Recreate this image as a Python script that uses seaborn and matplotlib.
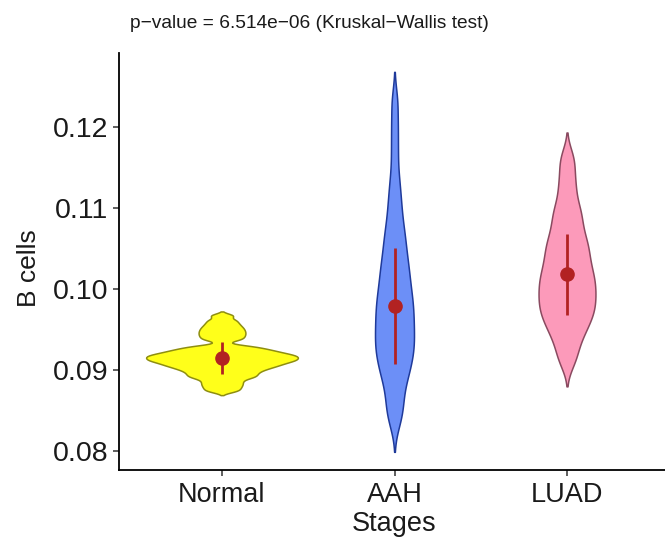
import numpy as np
import pandas as pd
import matplotlib
matplotlib.use("Agg")
import matplotlib.pyplot as plt
import seaborn as sns

stages = ["Normal", "AAH", "LUAD"]

normal_vals = [0.08740, 0.08775, 0.08808, 0.08838, 0.08869, 0.08899, 0.08917, 0.08935,
               0.08953, 0.08971, 0.08988, 0.09004, 0.09018, 0.09031, 0.09044, 0.09055,
               0.09066, 0.09076, 0.09087, 0.09097, 0.09106, 0.09115, 0.09123, 0.09131,
               0.09140, 0.09148, 0.09156, 0.09165, 0.09173, 0.09181, 0.09189, 0.09198,
               0.09208, 0.09219, 0.09230, 0.09241, 0.09254, 0.09268, 0.09285, 0.09302,
               0.09370, 0.09400, 0.09428, 0.09455, 0.09482, 0.09510, 0.09540,
               0.09575, 0.09615, 0.09672]
aah_vals = [0.08350, 0.08480, 0.08580, 0.08706, 0.08837, 0.08907, 0.08975, 0.09044,
            0.09112, 0.09166, 0.09217, 0.09269, 0.09320, 0.09371, 0.09424, 0.09478,
            0.09532, 0.09587, 0.09641, 0.09695, 0.09750, 0.09804, 0.09858, 0.09912,
            0.09971, 0.10040, 0.10108, 0.10177, 0.10245, 0.10314, 0.10390, 0.10483,
            0.10575, 0.10668, 0.10760, 0.10899, 0.11042, 0.11200, 0.11400, 0.11700,
            0.12000, 0.12320]
luad_vals = [0.09080, 0.09200, 0.09310, 0.09411, 0.09473, 0.09535, 0.09596, 0.09646,
             0.09690, 0.09733, 0.09776, 0.09820, 0.09863, 0.09906, 0.09950, 0.09993,
             0.10036, 0.10080, 0.10123, 0.10166, 0.10210, 0.10259, 0.10314, 0.10369,
             0.10424, 0.10480, 0.10535, 0.10590, 0.10647, 0.10728, 0.10809, 0.10890,
             0.10971, 0.11053, 0.11203, 0.11330, 0.11500, 0.11650]

means = [0.0915, 0.0979, 0.1018]
sds = [0.0020, 0.0072, 0.0050]

yticks = [0.08, 0.09, 0.10, 0.11, 0.12]
ytick_labels = ["0.08", "0.09", "0.10", "0.11", "0.12"]

fills = ["#FFFF1A", "#6C8FF7", "#FC9ABA"]
edges = ["#8E8E10", "#1F3A9A", "#8A4A60"]
bw_adj = [0.25, 0.40, 0.45]
widths = [0.88, 0.226, 0.33]

df = pd.DataFrame({
    "Stages": ["Normal"] * len(normal_vals) + ["AAH"] * len(aah_vals) + ["LUAD"] * len(luad_vals),
    "B cells": normal_vals + aah_vals + luad_vals,
})

sns.set_style("white")
plt.rcParams["font.family"] = ["Liberation Sans", "DejaVu Sans"]

fig = plt.figure(figsize=(6.65, 5.4), dpi=100)
ax = fig.add_axes([118.5 / 665, 1 - 470 / 540, 552 / 665, 417 / 540])

for i, st in enumerate(stages):
    sub = df[df["Stages"] == st]
    sns.violinplot(data=sub, x="Stages", y="B cells", order=stages, cut=2, inner=None,
                   bw_adjust=bw_adj[i], width=widths[i], color=fills[i], linecolor=edges[i],
                   linewidth=1.1, saturation=1, ax=ax)

ax.errorbar(np.arange(len(stages)), means, yerr=sds, fmt="o", color="#B22222",
            markersize=9.5, elinewidth=2.0, capsize=0, zorder=5)

ax.set_xlim(-0.6, 2.6)
ax.set_ylim(0.07765, 0.12914)
ax.set_yticks(yticks)
ax.set_yticklabels(ytick_labels)

for s in ["top", "right"]:
    ax.spines[s].set_visible(False)
for s in ["left", "bottom"]:
    ax.spines[s].set_color("black")
    ax.spines[s].set_linewidth(1.3)

ax.tick_params(axis="both", which="major", length=4, width=1.1, color="#333333",
               labelcolor="#1a1a1a", left=True, bottom=True)
ax.tick_params(axis="y", labelsize=20.5, pad=3.5)
ax.tick_params(axis="x", labelsize=19.5, pad=4.5)
ax.set_xlabel("Stages", fontsize=19.5, color="#1a1a1a", labelpad=2)
ax.set_ylabel("B cells", fontsize=19, color="#1a1a1a")
ax.yaxis.set_label_coords(-0.141, 0.483)

fig.text(309 / 665, 1 - 23 / 540, "p\u2212value = 6.514e\u221206 (Kruskal\u2212Wallis test)",
         ha="center", va="center", fontsize=13.8, color="#1a1a1a")

fig.savefig("out.png", dpi=100)
